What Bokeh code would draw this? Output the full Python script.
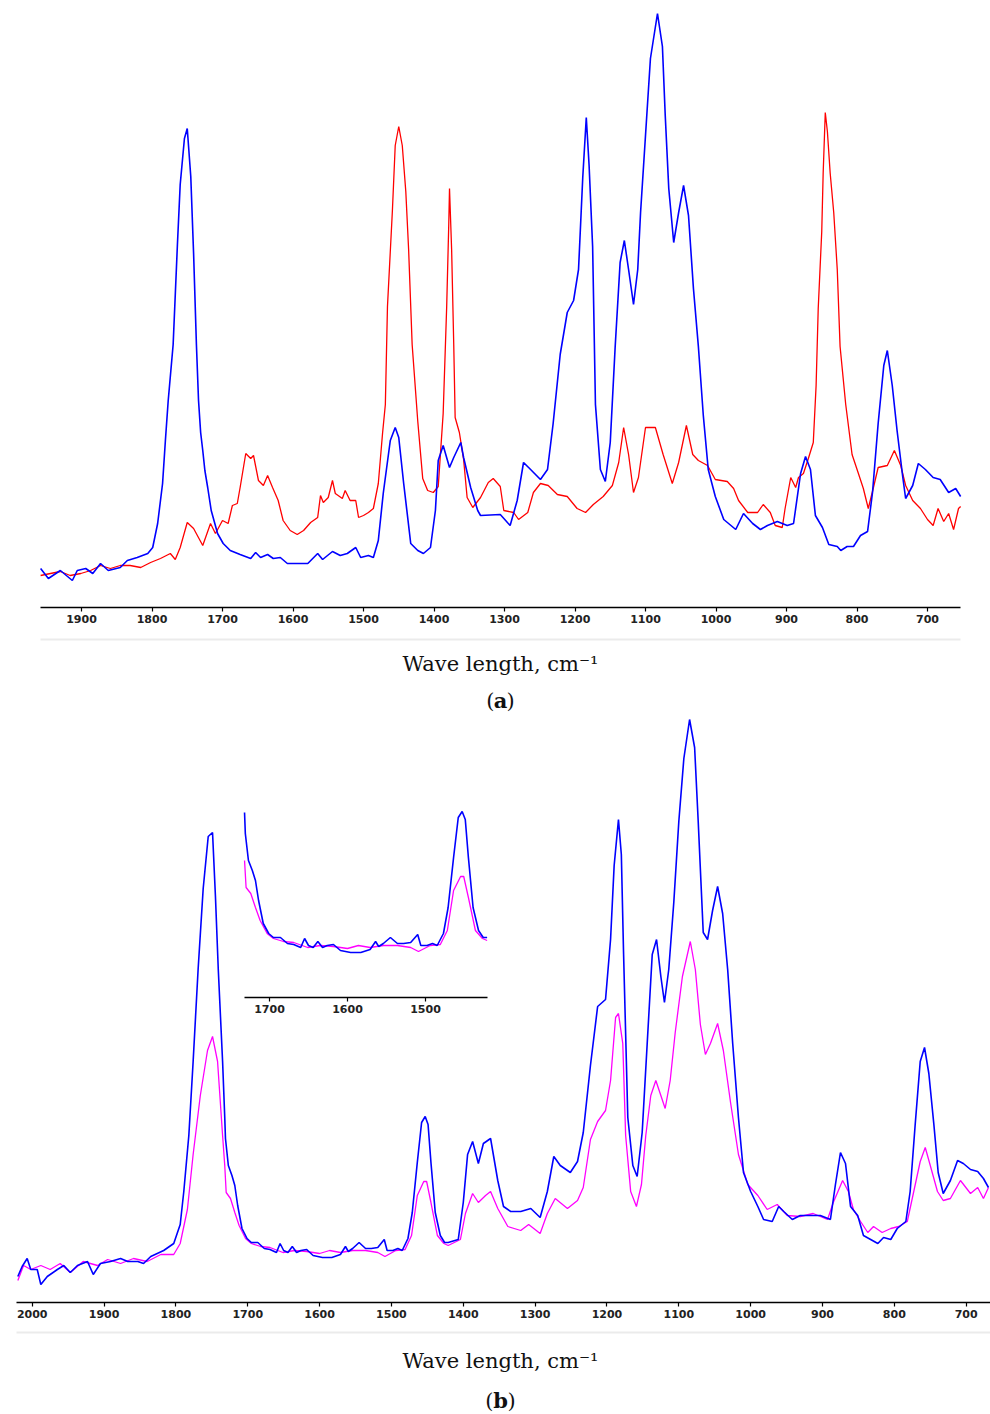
from bokeh.plotting import figure
from bokeh.models import Range1d, FixedTicker, LinearAxis, ColumnDataSource
from bokeh.layouts import column
from bokeh.embed import file_html
from bokeh.resources import INLINE
from bokeh.core.properties import value

# ---------------- data (wavenumber cm-1, absorbance a.u.) ----------------
# Panel (a): blue and red spectra
a_blue = [
    (1958, 39), (1947, 29), (1930, 37), (1913, 27), (1906, 37), (1894, 39), (1884, 34),
    (1873, 44), (1862, 37), (1845, 40), (1835, 47), (1821, 50), (1806, 54), (1799, 60),
    (1792, 84), (1785, 124), (1781, 167), (1777, 207), (1770, 263), (1764, 362),
    (1760, 423), (1754, 469), (1750, 479), (1745, 431), (1741, 354), (1737, 263),
    (1734, 207), (1731, 175), (1728, 157), (1725, 137), (1721, 120), (1716, 97),
    (1707, 74), (1699, 64), (1689, 57), (1675, 53), (1660, 49), (1653, 55), (1646, 50),
    (1636, 53), (1628, 49), (1618, 50), (1608, 44), (1594, 44), (1579, 44), (1565, 54),
    (1558, 48), (1544, 56), (1533, 52), (1523, 54), (1511, 60), (1504, 50), (1493, 52),
    (1486, 50), (1479, 67), (1472, 114), (1462, 167), (1455, 180), (1450, 170),
    (1443, 124), (1433, 64), (1423, 57), (1415, 54), (1405, 60), (1398, 97), (1394, 147),
    (1387, 162), (1378, 140), (1372, 150), (1362, 165), (1358, 150), (1348, 120),
    (1338, 97), (1334, 92), (1306, 93), (1292, 82), (1282, 107), (1273, 145), (1263, 138),
    (1249, 128), (1239, 138), (1231, 184), (1221, 253), (1211, 295), (1202, 307),
    (1195, 338), (1189, 430), (1184, 490), (1180, 442), (1175, 361), (1171, 203),
    (1164, 138), (1157, 126), (1150, 165), (1143, 261), (1136, 345), (1130, 367),
    (1124, 338), (1117, 303), (1111, 338), (1107, 395), (1100, 472), (1093, 549),
    (1083, 594), (1076, 561), (1072, 492), (1067, 419), (1060, 365), (1053, 395),
    (1046, 422), (1039, 392), (1032, 319), (1025, 261), (1018, 192), (1011, 138),
    (1001, 111), (989, 88), (972, 78), (961, 94), (948, 84), (937, 78), (927, 82),
    (913, 86), (899, 82), (890, 84), (880, 134), (873, 151), (866, 138), (859, 92),
    (849, 80), (840, 63), (828, 61), (823, 57), (814, 61), (805, 61), (795, 72), (785, 76),
    (778, 115), (770, 184), (762, 242), (757, 257), (750, 222), (743, 176), (735, 130),
    (731, 109), (721, 122), (713, 144), (703, 138), (692, 130), (682, 128), (670, 115),
    (660, 119), (653, 111),
]
a_red = [
    (1958, 32), (1944, 34), (1930, 36), (1916, 32), (1901, 34), (1887, 37), (1873, 42),
    (1859, 39), (1845, 42), (1831, 42), (1816, 40), (1802, 45), (1788, 49), (1774, 54),
    (1767, 48), (1760, 60), (1750, 85), (1741, 79), (1728, 62), (1717, 84), (1710, 74),
    (1700, 87), (1692, 84), (1686, 102), (1679, 104), (1675, 120), (1667, 154),
    (1660, 149), (1656, 152), (1649, 127), (1642, 122), (1636, 132), (1629, 120),
    (1621, 107), (1614, 87), (1604, 77), (1594, 73), (1585, 77), (1575, 85), (1565, 90),
    (1561, 112), (1557, 105), (1550, 110), (1544, 127), (1540, 114), (1530, 109),
    (1526, 117), (1519, 107), (1511, 107), (1507, 90), (1500, 92), (1493, 95), (1486, 99),
    (1479, 124), (1473, 174), (1469, 203), (1466, 301), (1459, 397), (1455, 462),
    (1450, 481), (1445, 462), (1440, 416), (1436, 358), (1431, 263), (1423, 186),
    (1416, 129), (1409, 117), (1401, 115), (1394, 121), (1387, 194), (1382, 301),
    (1379, 385), (1378, 419), (1375, 358), (1372, 263), (1370, 190), (1364, 175),
    (1358, 148), (1353, 110), (1345, 100), (1334, 110), (1323, 125), (1316, 129),
    (1306, 121), (1301, 97), (1287, 95), (1280, 88), (1267, 95), (1259, 115), (1249, 124),
    (1238, 122), (1225, 113), (1211, 111), (1197, 99), (1185, 95), (1174, 103),
    (1160, 111), (1147, 122), (1138, 145), (1131, 180), (1124, 153), (1117, 115),
    (1110, 130), (1100, 180), (1086, 180), (1075, 153), (1062, 124), (1053, 145),
    (1042, 182), (1033, 153), (1025, 147), (1012, 142), (1001, 128), (984, 126),
    (975, 119), (968, 107), (955, 95), (941, 95), (933, 103), (923, 95), (916, 82),
    (906, 80), (902, 99), (894, 130), (887, 120), (883, 130), (876, 134), (869, 149),
    (862, 165), (858, 222), (855, 299), (850, 376), (848, 434), (845, 495), (842, 476),
    (838, 434), (833, 395), (828, 338), (824, 261), (816, 203), (807, 153), (798, 134),
    (791, 119), (784, 99), (777, 119), (770, 140), (757, 142), (747, 157), (738, 142),
    (731, 122), (721, 107), (710, 99), (700, 88), (692, 82), (685, 99), (677, 86),
    (670, 94), (663, 78), (656, 99), (653, 101),
]

# Panel (b): blue and magenta spectra (the inset shows the 1732-1420 part)
b_blue = [
    (2020, 26), (2014, 36), (2007, 44), (2002, 33), (1993, 33), (1988, 18), (1979, 26),
    (1965, 33), (1956, 37), (1947, 30), (1937, 37), (1923, 41), (1915, 28), (1905, 39),
    (1891, 41), (1877, 44), (1867, 41), (1853, 41), (1845, 39), (1835, 46), (1817, 52),
    (1803, 59), (1794, 78), (1789, 111), (1782, 167), (1776, 241), (1769, 334),
    (1762, 414), (1755, 466), (1749, 470), (1745, 407), (1741, 333), (1735, 241),
    (1732, 185), (1731, 164), (1727, 137), (1722, 127), (1718, 117), (1714, 97),
    (1708, 74), (1701, 64), (1695, 60), (1686, 60), (1677, 54), (1669, 53), (1660, 50),
    (1655, 59), (1650, 52), (1644, 50), (1638, 56), (1632, 50), (1626, 52), (1618, 53),
    (1609, 47), (1596, 45), (1583, 45), (1571, 48), (1564, 56), (1560, 51), (1554, 54),
    (1545, 60), (1536, 54), (1528, 54), (1519, 55), (1510, 63), (1506, 52), (1498, 52),
    (1491, 54), (1485, 52), (1477, 64), (1471, 90), (1464, 140), (1458, 180), (1453, 186),
    (1449, 178), (1445, 140), (1439, 90), (1432, 67), (1426, 60), (1421, 60), (1407, 63),
    (1400, 100), (1394, 148), (1387, 161), (1379, 139), (1372, 159), (1362, 164),
    (1352, 122), (1344, 96), (1334, 91), (1320, 91), (1306, 94), (1293, 85), (1283, 111),
    (1274, 146), (1265, 137), (1251, 130), (1241, 141), (1233, 170), (1223, 237),
    (1213, 296), (1202, 303), (1195, 363), (1190, 437), (1184, 483), (1180, 448),
    (1177, 352), (1171, 185), (1164, 137), (1158, 126), (1151, 170), (1144, 259),
    (1137, 348), (1131, 363), (1125, 326), (1120, 300), (1114, 333), (1107, 400),
    (1100, 481), (1093, 544), (1085, 583), (1078, 555), (1073, 481), (1066, 370),
    (1060, 363), (1053, 392), (1046, 416), (1039, 389), (1032, 333), (1025, 259),
    (1017, 185), (1010, 130), (1000, 111), (990, 96), (982, 83), (970, 81), (961, 96),
    (954, 91), (942, 83), (931, 87), (917, 87), (903, 87), (889, 83), (882, 118),
    (875, 150), (868, 139), (861, 96), (851, 87), (843, 67), (833, 63), (823, 59),
    (815, 65), (805, 63), (796, 74), (784, 81), (778, 111), (771, 178), (764, 241),
    (758, 255), (752, 229), (745, 178), (739, 130), (732, 109), (722, 122), (712, 142),
    (704, 139), (694, 133), (684, 131), (676, 124), (669, 115),
]
b_magenta = [
    (2020, 22), (2012, 37), (2002, 33), (1988, 37), (1975, 33), (1961, 39), (1947, 30),
    (1929, 41), (1909, 37), (1895, 43), (1877, 39), (1859, 44), (1840, 41), (1821, 48),
    (1803, 48), (1794, 59), (1784, 93), (1776, 148), (1766, 207), (1756, 252),
    (1749, 266), (1742, 241), (1735, 167), (1732, 137), (1730, 110), (1724, 104),
    (1718, 90), (1712, 77), (1703, 64), (1695, 59), (1682, 56), (1669, 55), (1651, 50),
    (1635, 52), (1618, 51), (1600, 49), (1586, 52), (1571, 50), (1554, 52), (1536, 52),
    (1519, 50), (1509, 46), (1494, 52), (1481, 53), (1472, 67), (1464, 107), (1455, 121),
    (1451, 121), (1445, 100), (1436, 67), (1427, 59), (1421, 57), (1404, 63), (1397, 89),
    (1387, 109), (1379, 100), (1369, 107), (1362, 111), (1352, 94), (1338, 76),
    (1320, 72), (1309, 78), (1293, 69), (1283, 89), (1272, 104), (1255, 94), (1241, 102),
    (1233, 115), (1223, 163), (1213, 181), (1202, 192), (1195, 222), (1188, 285),
    (1184, 289), (1178, 259), (1174, 167), (1167, 111), (1159, 96), (1152, 118),
    (1146, 167), (1139, 207), (1132, 222), (1125, 207), (1119, 194), (1112, 222),
    (1105, 270), (1095, 326), (1084, 361), (1077, 333), (1070, 278), (1063, 248),
    (1056, 259), (1046, 279), (1038, 252), (1028, 200), (1017, 148), (1004, 118),
    (990, 107), (977, 93), (963, 98), (949, 87), (931, 86), (913, 89), (893, 83),
    (885, 100), (872, 122), (864, 111), (857, 93), (847, 81), (837, 70), (829, 76),
    (817, 70), (805, 74), (794, 76), (782, 81), (773, 111), (764, 141), (757, 155),
    (750, 137), (740, 111), (732, 102), (722, 104), (708, 122), (694, 109), (684, 115),
    (676, 104), (669, 115),
]

ticks_a = [1900, 1800, 1700, 1600, 1500, 1400, 1300, 1200, 1100, 1000, 900, 800, 700]
ticks_b = [2000, 1900, 1800, 1700, 1600, 1500, 1400, 1300, 1200, 1100, 1000, 900, 800, 700]
ticks_inset = [1700, 1600, 1500]
inset_window = (1420, 1732)

x_label = "Wave length, cm\u207b\u00b9"
panel_letters = ["a", "b"]

# ---------------- styling / layout constants (page pixels) ----------------
W = 990
BLUE, RED, MAGENTA = "#0000ff", "#ff0000", "#ff00ff"
TICK_FONT = "DejaVu Sans"
CAP_FONT = "DejaVu Serif"
INK = "#111111"


def src(pairs, lo=None, hi=None):
    xs, ys = zip(*pairs)
    if lo is not None:
        keep = [i for i, x in enumerate(xs) if lo <= x <= hi]
        xs = [xs[i] for i in keep]
        ys = [ys[i] for i in keep]
    return ColumnDataSource(dict(x=list(xs), y=list(ys)))


def px_range(t1, px1, t2, px2, left_px, right_px):
    """Range so that tick value t1 lands at page pixel px1 and t2 at px2."""
    k = (px2 - px1) / (t2 - t1)
    return t1 + (left_px - px1) / k, t1 + (right_px - px1) / k


def style_axis(ax, ticks):
    ax.ticker = FixedTicker(ticks=ticks)
    ax.axis_line_color = "#000000"
    ax.axis_line_width = 1.6
    ax.major_tick_line_color = "#000000"
    ax.major_tick_line_width = 1.2
    ax.major_tick_out = 4
    ax.major_tick_in = 0
    ax.minor_tick_line_color = None
    ax.major_label_standoff = 3
    ax.major_label_text_font = TICK_FONT
    ax.major_label_text_font_size = "11px"
    ax.major_label_text_font_style = "bold"
    ax.major_label_text_color = "#222222"


def base_fig(height, x_range, y_range, bottom):
    p = figure(width=W, height=height, x_range=x_range, y_range=y_range,
               output_backend="svg", toolbar_location=None,
               y_axis_location=None,
               min_border_left=0, min_border_right=0,
               min_border_top=0, min_border_bottom=bottom)
    p.xgrid.visible = False
    p.ygrid.visible = False
    p.outline_line_color = None
    p.background_fill_color = "white"
    p.border_fill_color = "white"
    return p


def caption_fig(height, line_x0, line_x1, line_y, label_mid, letter_mid, center_x, letter, half_w):
    c = figure(width=W, height=height, x_range=Range1d(0, W), y_range=Range1d(height, 0),
               output_backend="svg", toolbar_location=None,
               x_axis_location=None, y_axis_location=None,
               min_border_left=0, min_border_right=0,
               min_border_top=0, min_border_bottom=0)
    c.xgrid.visible = False
    c.ygrid.visible = False
    c.outline_line_color = None
    c.segment(x0=[line_x0], y0=[line_y], x1=[line_x1], y1=[line_y],
              line_color="#ebebeb", line_width=2)
    common = dict(text_baseline="middle", text_font=value(CAP_FONT),
                  text_font_size="21px", text_color=INK)
    c.text(x=[center_x], y=[label_mid], text=[x_label], text_align="center", **common)
    c.text(x=[center_x], y=[letter_mid], text=[letter], text_align="center",
           text_font_style="bold", **common)
    c.text(x=[center_x], y=[letter_mid], text=["("], x_offset=-half_w, text_align="right", **common)
    c.text(x=[center_x], y=[letter_mid], text=[")"], x_offset=half_w, text_align="left", **common)
    return c


# ---------------- panel (a) ----------------
A_FRAME_H, A_BOT = 607, 21
ax0, ax1 = px_range(1900, 81, 700, 927, 0, W)
fa = base_fig(A_FRAME_H + A_BOT, Range1d(ax0, ax1), Range1d(0, A_FRAME_H), A_BOT)
style_axis(fa.xaxis[0], ticks_a)
a_wn = [w for w, _ in a_blue] + [w for w, _ in a_red]
fa.xaxis[0].bounds = (min(a_wn), max(a_wn))
fa.line("x", "y", source=src(a_red), line_color=RED, line_width=1.3)
fa.line("x", "y", source=src(a_blue), line_color=BLUE, line_width=1.6)

cap_a = caption_fig(87, 40, 960, 11, 35, 72, 500, panel_letters[0], 6)

# ---------------- panel (b) ----------------
B_FRAME_H, B_BOT = 587, 21
B_TOP_PAGE = 628 + 87
bx0, bx1 = px_range(2000, 31.7, 700, 965.7, 0, W)
fb = base_fig(B_FRAME_H + B_BOT, Range1d(bx0, bx1), Range1d(0, B_FRAME_H), B_BOT)
style_axis(fb.xaxis[0], ticks_b)
b_axis_start, _ = px_range(2000, 31.7, 700, 965.7, 16, W)
fb.xaxis[0].bounds = (bx1, b_axis_start)
fb.line("x", "y", source=src(b_magenta), line_color=MAGENTA, line_width=1.3)
fb.line("x", "y", source=src(b_blue), line_color=BLUE, line_width=1.6)

# inset: same spectra, enlarged horizontally, drawn into a window of panel (b)
lo, hi = inset_window
ix0, ix1 = px_range(1700, 269, 1500, 425, 0, W)
IN_AXIS_PAGE_Y = 997
iy_end = IN_AXIS_PAGE_Y - B_TOP_PAGE
iy_start = iy_end - B_FRAME_H
fb.extra_x_ranges = {"ix": Range1d(ix0, ix1)}
fb.extra_y_ranges = {"iy": Range1d(iy_start, iy_end)}
fb.line("x", "y", source=src(b_magenta, lo, hi), line_color=MAGENTA, line_width=1.3,
        x_range_name="ix", y_range_name="iy")
fb.line("x", "y", source=src(b_blue, lo, hi), line_color=BLUE, line_width=1.6,
        x_range_name="ix", y_range_name="iy")
inset_axis = LinearAxis(x_range_name="ix", y_range_name="iy", fixed_location=0,
                        bounds=(lo, hi))
style_axis(inset_axis, ticks_inset)
fb.add_layout(inset_axis, "below")

cap_b = caption_fig(91, 16, 990, 9, 37, 77, 500, panel_letters[1], 7)

layout = column(fa, cap_a, fb, cap_b, spacing=0)
open("out.html", "w").write(file_html(layout, INLINE))
